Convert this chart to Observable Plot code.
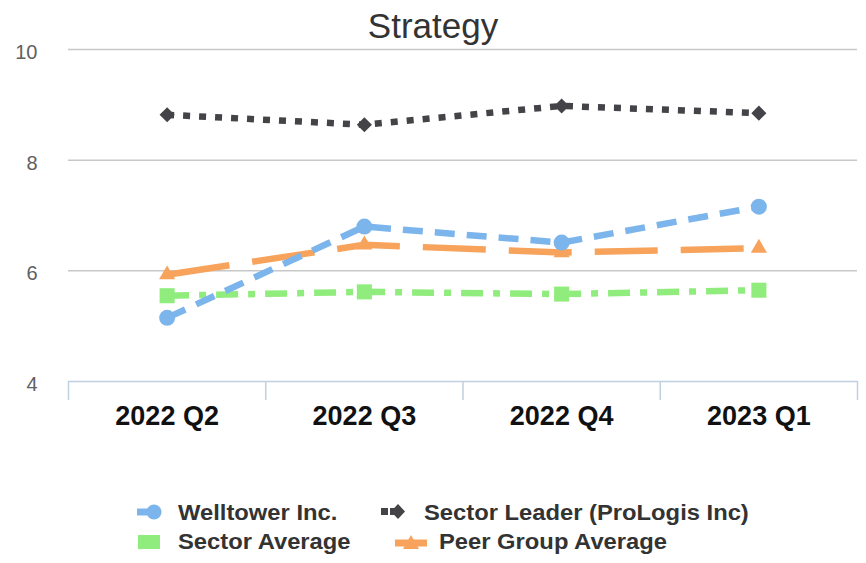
<!DOCTYPE html>
<html><head><meta charset="utf-8">
<script src="https://cdn.jsdelivr.net/npm/d3@7"></script>
<script src="https://cdn.jsdelivr.net/npm/@observablehq/plot@0.6"></script>
<style>
body{margin:0;background:#fff;font-family:"Liberation Sans",Arial,sans-serif;}
#wrap{position:relative;width:866px;height:563px;overflow:hidden;background:#fff}
#chart{position:absolute;left:0;top:0}
#title{position:absolute;left:0;width:866px;top:6px;text-align:center;font-size:35px;line-height:normal;color:#333;}
.leg{position:absolute;font-size:22px;line-height:22px;font-weight:bold;color:#333;white-space:nowrap;transform-origin:left center;transform:scaleX(1.08)}
#legsym{position:absolute;left:0;top:0}
</style></head><body>
<div id="wrap"><div id="chart"></div><div id="title">Strategy</div><svg id="legsym" width="866" height="563"></svg></div>
<script>
const quarters = ["2022 Q2", "2022 Q3", "2022 Q4", "2023 Q1"];
const welltower = [5.15, 6.80, 6.51, 7.16];
const sectorLeader = [8.82, 8.64, 8.98, 8.85];
const sectorAverage = [5.55, 5.62, 5.58, 5.65];
const peerGroup = [5.93, 6.47, 6.33, 6.41];
const yTicks = [4, 6, 8, 10];
const gridTicks = [6, 8, 10];
const seriesNames = ["Welltower Inc.", "Sector Leader (ProLogis Inc)", "Sector Average", "Peer Group Average"];

const styles = [
  {values: peerGroup, color: "#f7a35c", dash: "63,23", symbol: "triangle", r: 6},
  {values: sectorAverage, color: "#90ed7d", dash: "22,10,7,10", symbol: "square", r: 8.5},
  {values: sectorLeader, color: "#434348", dash: "7,9", symbol: "diamond2", r: 6.8},
  {values: welltower, color: "#7cb5ec", dash: "20,12", symbol: "circle", r: 8}
];

const xi = (d, i) => i + 0.5;
const marks = [
  Plot.ruleY(gridTicks, {stroke: "#c8c8c8", strokeWidth: 1.5}),
  Plot.ruleY([yTicks[0]], {stroke: "#c0d0e0", strokeWidth: 1.5}),
  Plot.axisX({ticks: d3.range(quarters.length + 1), tickSize: 19, tickFormat: () => "", stroke: "#c0d0e0", strokeWidth: 1.5, label: null}),
  Plot.axisX({ticks: quarters.map((q, i) => i + 0.5), tickSize: 0, tickPadding: 24, tickFormat: v => quarters[Math.floor(v)], fontSize: 27, fontWeight: "bold", fill: "#111", label: null}),
  Plot.axisY({ticks: yTicks, tickSize: 0, tickPadding: 31, tickFormat: d3.format("d"), fontSize: 20, fill: "#606060", dy: 3, label: null})
];
for (const s of styles) {
  marks.push(Plot.line(s.values, {x: xi, y: d => d, stroke: s.color, strokeWidth: 6.5, strokeDasharray: s.dash, strokeLinecap: "butt"}));
  marks.push(Plot.dot(s.values, {x: xi, y: d => d, symbol: s.symbol, r: s.r, fill: s.color, stroke: "none"}));
}

const chart = Plot.plot({
  width: 866, height: 440,
  marginLeft: 68, marginRight: 9, marginTop: 49, marginBottom: 59,
  x: {domain: [0, quarters.length], label: null},
  y: {domain: [yTicks[0], yTicks[yTicks.length - 1]], label: null},
  style: {fontFamily: "Liberation Sans, Arial, sans-serif", background: "transparent", overflow: "visible"},
  marks
});
document.getElementById("chart").appendChild(chart);

// legend
const wrap = document.getElementById("wrap");
const legPos = [
  {x: 178, y: 502}, {x: 424, y: 502}, {x: 178, y: 531}, {x: 439, y: 531}
];
seriesNames.forEach((n, i) => {
  const d = document.createElement("div");
  d.className = "leg";
  d.textContent = n;
  d.style.left = legPos[i].x + "px";
  d.style.top = legPos[i].y + "px";
  wrap.appendChild(d);
});
const sym = d3.select("#legsym");
// Welltower
sym.append("line").attr("x1", 137).attr("x2", 155).attr("y1", 512).attr("y2", 512).attr("stroke", "#7cb5ec").attr("stroke-width", 7);
sym.append("circle").attr("cx", 154).attr("cy", 512).attr("r", 7.5).attr("fill", "#7cb5ec");
// Sector leader
sym.append("rect").attr("x", 381).attr("y", 508).attr("width", 7).attr("height", 7).attr("fill", "#434348");
sym.append("line").attr("x1", 390).attr("x2", 400).attr("y1", 511.5).attr("y2", 511.5).attr("stroke", "#434348").attr("stroke-width", 7);
sym.append("path").attr("d", "M398,504 L405,511.5 L398,519 L391,511.5 Z").attr("fill", "#434348");
// Sector average
sym.append("rect").attr("x", 138).attr("y", 535).attr("width", 22).attr("height", 14).attr("fill", "#90ed7d");
// Peer group
sym.append("line").attr("x1", 395).attr("x2", 427).attr("y1", 543).attr("y2", 543).attr("stroke", "#f7a35c").attr("stroke-width", 7);
sym.append("path").attr("d", "M411,535 L419,549 L403,549 Z").attr("fill", "#f7a35c");
</script>
</body></html>
